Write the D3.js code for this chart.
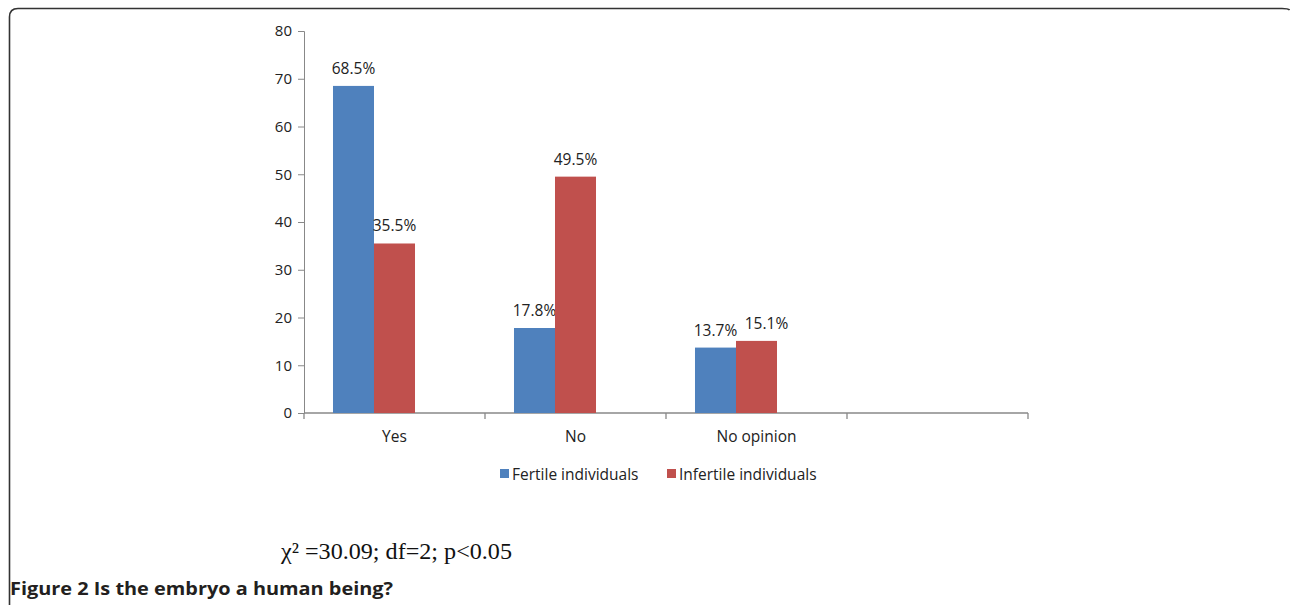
<!DOCTYPE html>
<html><head><meta charset="utf-8">
<script src="https://cdn.jsdelivr.net/npm/d3@7"></script>
<style>
html,body{margin:0;padding:0;background:#fff;}
svg{display:block;}
</style></head>
<body>
<svg id="c" width="1290" height="605"></svg>
<script>
const categories = ["Yes", "No", "No opinion", ""];
const seriesNames = ["Fertile individuals", "Infertile individuals"];
const fertile = [68.5, 17.8, 13.7, null];
const infertile = [35.5, 49.5, 15.1, null];
const seriesColors = ["#4f81bd", "#c0504d"];
const yTicks = [0, 10, 20, 30, 40, 50, 60, 70, 80];
// manual label nudges (series-category), as in the original chart
const labelNudge = { "1-2": 10 };

const svg = d3.select("#c");
const font = "'Open Sans', sans-serif";

// frame
svg.append("path")
  .attr("d", "M9.5,605 L9.5,17 Q9.5,8.5 18,8.5 L1282,8.5 Q1288.5,8.5 1289.5,10")
  .attr("fill", "none").attr("stroke", "#333").attr("stroke-width", 1.6);

const x0 = 304, x1 = 1028, yTop = 31, yBase = 413;
const x = d3.scaleBand().domain(d3.range(categories.length)).range([x0, x1]).paddingInner(0).paddingOuter(0);
const xs = d3.scaleBand().domain([0, 1, 2]).range([0, x.bandwidth()]).paddingOuter(0.707).paddingInner(0);
const y = d3.scaleLinear().domain([0, 80]).range([yBase, yTop]);

// y axis
const gy = svg.append("g").attr("transform", `translate(${x0},0)`)
  .call(d3.axisLeft(y).tickValues(yTicks).tickSize(6).tickPadding(6).tickFormat(d3.format("d")));
gy.select(".domain").attr("stroke", "#888");
gy.selectAll(".tick line").attr("stroke", "#888");
gy.selectAll("text").attr("font-family", font).attr("font-size", 15).attr("fill", "#222");

// x axis
const gx = svg.append("g").attr("transform", `translate(0,${yBase})`);
gx.append("line").attr("x1", x0).attr("x2", x1).attr("stroke", "#888").attr("stroke-width", 1.3);
const bounds = d3.range(categories.length + 1).map(i => i < categories.length ? x(i) : x1);
gx.selectAll("line.t").data(bounds).join("line").attr("class", "t")
  .attr("x1", d => d).attr("x2", d => d).attr("y1", 0).attr("y2", 6)
  .attr("stroke", "#888").attr("stroke-width", 1.3);
gx.selectAll("text").data(categories).join("text")
  .attr("x", (d, i) => x(i) + x.bandwidth() / 2).attr("y", 29)
  .attr("text-anchor", "middle").attr("font-family", font).attr("font-size", 15.5).attr("fill", "#222")
  .text(d => d);

// bars
const series = [fertile, infertile];
series.forEach((vals, si) => {
  const g = svg.append("g");
  const data = vals.map((v, i) => ({ v, i })).filter(d => d.v != null);
  g.selectAll("rect").data(data).join("rect")
    .attr("x", d => x(d.i) + xs(si)).attr("width", xs.bandwidth())
    .attr("y", d => y(d.v)).attr("height", d => yBase - y(d.v))
    .attr("fill", seriesColors[si]);
  g.selectAll("text").data(data).join("text")
    .attr("x", d => x(d.i) + xs(si) + xs.bandwidth() / 2 + (labelNudge[si + "-" + d.i] || 0))
    .attr("y", d => y(d.v) - 12)
    .attr("text-anchor", "middle").attr("font-family", font).attr("font-size", 15.5).attr("fill", "#222")
    .text(d => d.v.toFixed(1) + "%");
});

// legend
const legX = [500, 667];
seriesNames.forEach((n, i) => {
  svg.append("rect").attr("x", legX[i]).attr("y", 469).attr("width", 9).attr("height", 9).attr("fill", seriesColors[i]);
  svg.append("text").attr("x", legX[i] + 12).attr("y", 479.5)
    .attr("font-family", font).attr("font-size", 15.5).attr("fill", "#222").text(n);
});

// stats
svg.append("text").attr("x", 281).attr("y", 559)
  .attr("font-family", "'Liberation Serif', 'Times New Roman', serif").attr("font-size", 23).attr("fill", "#111")
  .attr("textLength", 231).attr("lengthAdjust", "spacingAndGlyphs")
  .text("χ² =30.09; df=2; p<0.05");

// caption
svg.append("text").attr("x", 10).attr("y", 595)
  .attr("font-family", font).attr("font-size", 17.5).attr("font-weight", "bold").attr("fill", "#231f20")
  .attr("textLength", 383).attr("lengthAdjust", "spacingAndGlyphs")
  .text("Figure 2 Is the embryo a human being?");
</script>
</body></html>
